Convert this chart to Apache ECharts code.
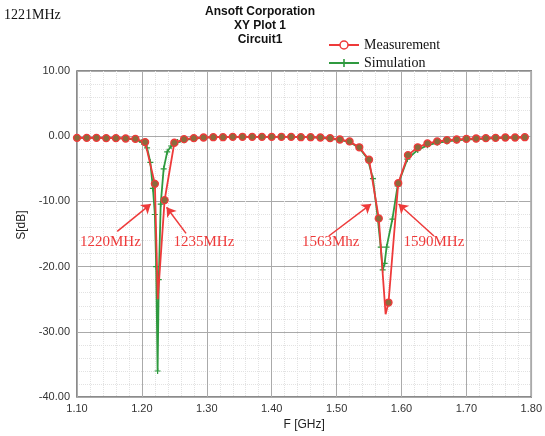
<!DOCTYPE html>
<html>
<head>
<meta charset="utf-8">
<script src="https://cdn.jsdelivr.net/npm/echarts@6/dist/echarts.min.js"></script>
<style>
  html, body { margin: 0; padding: 0; background: #fff; }
  #chart { width: 545px; height: 436px; }
</style>
</head>
<body>
<div id="chart"></div>
<script>
// measured S-parameter, sampled every 15 MHz (marked points)
var measFreq = [1.100, 1.115, 1.130, 1.145, 1.160, 1.175, 1.190, 1.205, 1.220, 1.235,
                1.250, 1.265, 1.280, 1.295, 1.310, 1.325, 1.340, 1.355, 1.370, 1.385,
                1.400, 1.415, 1.430, 1.445, 1.460, 1.475, 1.490, 1.505, 1.520, 1.535,
                1.550, 1.565, 1.580, 1.595, 1.610, 1.625, 1.640, 1.655, 1.670, 1.685,
                1.700, 1.715, 1.730, 1.745, 1.760, 1.775, 1.790];
var measDb = [-0.25, -0.25, -0.25, -0.3, -0.3, -0.35, -0.4, -0.9, -7.3, -9.8,
              -1.0, -0.45, -0.3, -0.2, -0.15, -0.15, -0.1, -0.1, -0.1, -0.1,
              -0.1, -0.1, -0.1, -0.15, -0.15, -0.2, -0.3, -0.5, -0.8, -1.7,
              -3.6, -12.6, -25.5, -7.2, -2.9, -1.7, -1.1, -0.8, -0.6, -0.5,
              -0.4, -0.35, -0.3, -0.25, -0.2, -0.2, -0.15];
// bottoms of the measured notches (no marker drawn there)
var measDipFreq = [1.2245, 1.5755];
var measDipDb = [-25, -27.3];

// simulated S-parameter
var simFreq = [1.100, 1.115, 1.130, 1.145, 1.160, 1.175, 1.190, 1.200, 1.208, 1.213,
               1.217, 1.220, 1.222, 1.2242, 1.226, 1.229, 1.2335, 1.239, 1.245, 1.255,
               1.265, 1.280, 1.295, 1.310, 1.325, 1.340, 1.355, 1.370, 1.385, 1.400,
               1.415, 1.430, 1.445, 1.460, 1.475, 1.490, 1.505, 1.520, 1.535, 1.548,
               1.556, 1.5636, 1.568, 1.571, 1.574, 1.577, 1.586, 1.594, 1.609, 1.625,
               1.640, 1.655, 1.670, 1.685, 1.700, 1.715, 1.730, 1.745, 1.760, 1.775, 1.790];
var simDb = [-0.25, -0.25, -0.25, -0.3, -0.3, -0.35, -0.5, -0.9, -1.8, -4,
             -8, -12, -20, -36, -22, -10.4, -5, -2.4, -1.5, -0.9,
             -0.6, -0.35, -0.25, -0.15, -0.15, -0.1, -0.1, -0.1, -0.1, -0.1,
             -0.1, -0.1, -0.15, -0.15, -0.25, -0.4, -0.55, -0.9, -1.8, -3.5,
             -6.5, -12.7, -17, -20.5, -19.5, -17, -12.7, -7.6, -3.5, -2.1,
             -1.4, -1.0, -0.8, -0.65, -0.5, -0.45, -0.4, -0.3, -0.25, -0.2, -0.2];

// annotation labels: text, position [GHz, dB]
var noteText = ['1220MHz', '1235MHz', '1563Mhz', '1590MHz'];
var notePos = [[1.1515, -16.2], [1.2955, -16.2], [1.4909, -16.2], [1.6500, -16.2]];
// arrows: from -> to [GHz, dB]
var arrowFrom = [[1.162, -14.6], [1.268, -14.9], [1.488, -15.3], [1.650, -15.3]];
var arrowTo = [[1.2136, -10.4], [1.238, -10.9], [1.553, -10.4], [1.5955, -10.4]];

var RED = '#ee3a3a';
var GREEN = '#2f9a3f';
var PLUS = 'path://M4,0H6V4H10V6H6V10H4V6H0V4H4Z';

// merge measurement samples and unmarked dip points
var measData = [];
measFreq.forEach(function (f, i) { measData.push({ value: [f, measDb[i]] }); });
measDipFreq.forEach(function (f, i) {
    measData.push({ value: [f, measDipDb[i]], symbol: 'none' });
});
measData.sort(function (a, b) { return a.value[0] - b.value[0]; });

var simData = simFreq.map(function (f, i) { return [f, simDb[i]]; });

var chart = echarts.init(document.getElementById('chart'));
chart.setOption({
    animation: false,
    backgroundColor: '#fff',
    title: {
        text: 'Ansoft Corporation\nXY Plot 1\nCircuit1',
        left: 255,
        top: 0,
        textAlign: 'center',
        textStyle: {
            fontFamily: 'Liberation Sans',
            fontWeight: 'bold',
            fontSize: 12,
            lineHeight: 14,
            color: '#111'
        }
    },
    graphic: [{
        type: 'text',
        left: 4,
        top: 8,
        style: {
            text: '1221MHz',
            font: '14px "Liberation Serif"',
            fill: '#111'
        }
    }],
    legend: {
        orient: 'vertical',
        left: 323,
        top: 33,
        itemWidth: 30,
        itemHeight: 10,
        itemGap: 4,
        textStyle: {
            fontFamily: 'Liberation Serif',
            fontSize: 14,
            color: '#111'
        },
        data: [
            { name: 'Measurement', itemStyle: { color: '#fff', borderColor: RED, borderWidth: 1.5 } },
            { name: 'Simulation' }
        ]
    },
    grid: {
        left: 77,
        right: 6,
        top: 71,
        bottom: 38,
        show: true,
        borderColor: '#666',
        borderWidth: 1.5
    },
    xAxis: {
        type: 'value',
        min: 1.1,
        max: 1.8,
        interval: 0.1,
        name: 'F [GHz]',
        nameLocation: 'middle',
        nameGap: 20,
        nameTextStyle: { fontFamily: 'Liberation Sans', fontSize: 12, color: '#222' },
        axisLine: { show: false },
        axisTick: { show: false },
        axisLabel: {
            margin: 6,
            fontFamily: 'Liberation Sans',
            fontSize: 11,
            color: '#333',
            formatter: function (v) { return v.toFixed(2); }
        },
        splitLine: { show: true, lineStyle: { color: '#aaa', width: 1 } },
        minorTick: { show: false, splitNumber: 5 },
        minorSplitLine: { show: true, lineStyle: { color: '#e2e2e2', type: 'dotted' } }
    },
    yAxis: {
        type: 'value',
        min: -40,
        max: 10,
        interval: 10,
        name: 'S[dB]',
        nameLocation: 'middle',
        nameGap: 42,
        nameTextStyle: { fontFamily: 'Liberation Sans', fontSize: 12, color: '#222', padding: [0, 0, 0, 18] },
        axisLine: { show: false },
        axisTick: { show: false },
        axisLabel: {
            margin: 7,
            fontFamily: 'Liberation Sans',
            fontSize: 11,
            color: '#333',
            formatter: function (v) { return v.toFixed(2); }
        },
        splitLine: { show: true, lineStyle: { color: '#aaa', width: 1 } },
        minorTick: { show: false, splitNumber: 5 },
        minorSplitLine: { show: true, lineStyle: { color: '#e2e2e2', type: 'dotted' } }
    },
    series: [
        {
            name: 'Simulation',
            type: 'line',
            data: simData,
            symbol: PLUS,
            symbolSize: 6,
            showAllSymbol: true,
            lineStyle: { color: GREEN, width: 1.8 },
            itemStyle: { color: GREEN },
            z: 2
        },
        {
            name: 'Measurement',
            type: 'line',
            data: measData,
            symbol: 'circle',
            symbolSize: 7,
            showAllSymbol: true,
            lineStyle: { color: RED, width: 1.8 },
            itemStyle: { color: '#8c6a3c', borderColor: RED, borderWidth: 1.3 },
            z: 3
        },
        {
            name: 'notes',
            type: 'line',
            data: [],
            silent: true,
            markLine: {
                silent: true,
                symbol: ['none', 'arrow'],
                symbolSize: 9,
                label: { show: false },
                lineStyle: { color: RED, width: 1.5, type: 'solid' },
                data: arrowFrom.map(function (p, i) {
                    return [{ coord: p }, { coord: arrowTo[i] }];
                })
            },
            markPoint: {
                silent: true,
                symbol: 'circle',
                symbolSize: 0,
                label: {
                    show: true,
                    position: 'inside',
                    fontFamily: 'Liberation Serif',
                    fontSize: 15,
                    color: RED,
                    formatter: '{b}'
                },
                data: noteText.map(function (t, i) {
                    return { name: t, coord: notePos[i] };
                })
            }
        }
    ]
});
</script>
</body>
</html>
